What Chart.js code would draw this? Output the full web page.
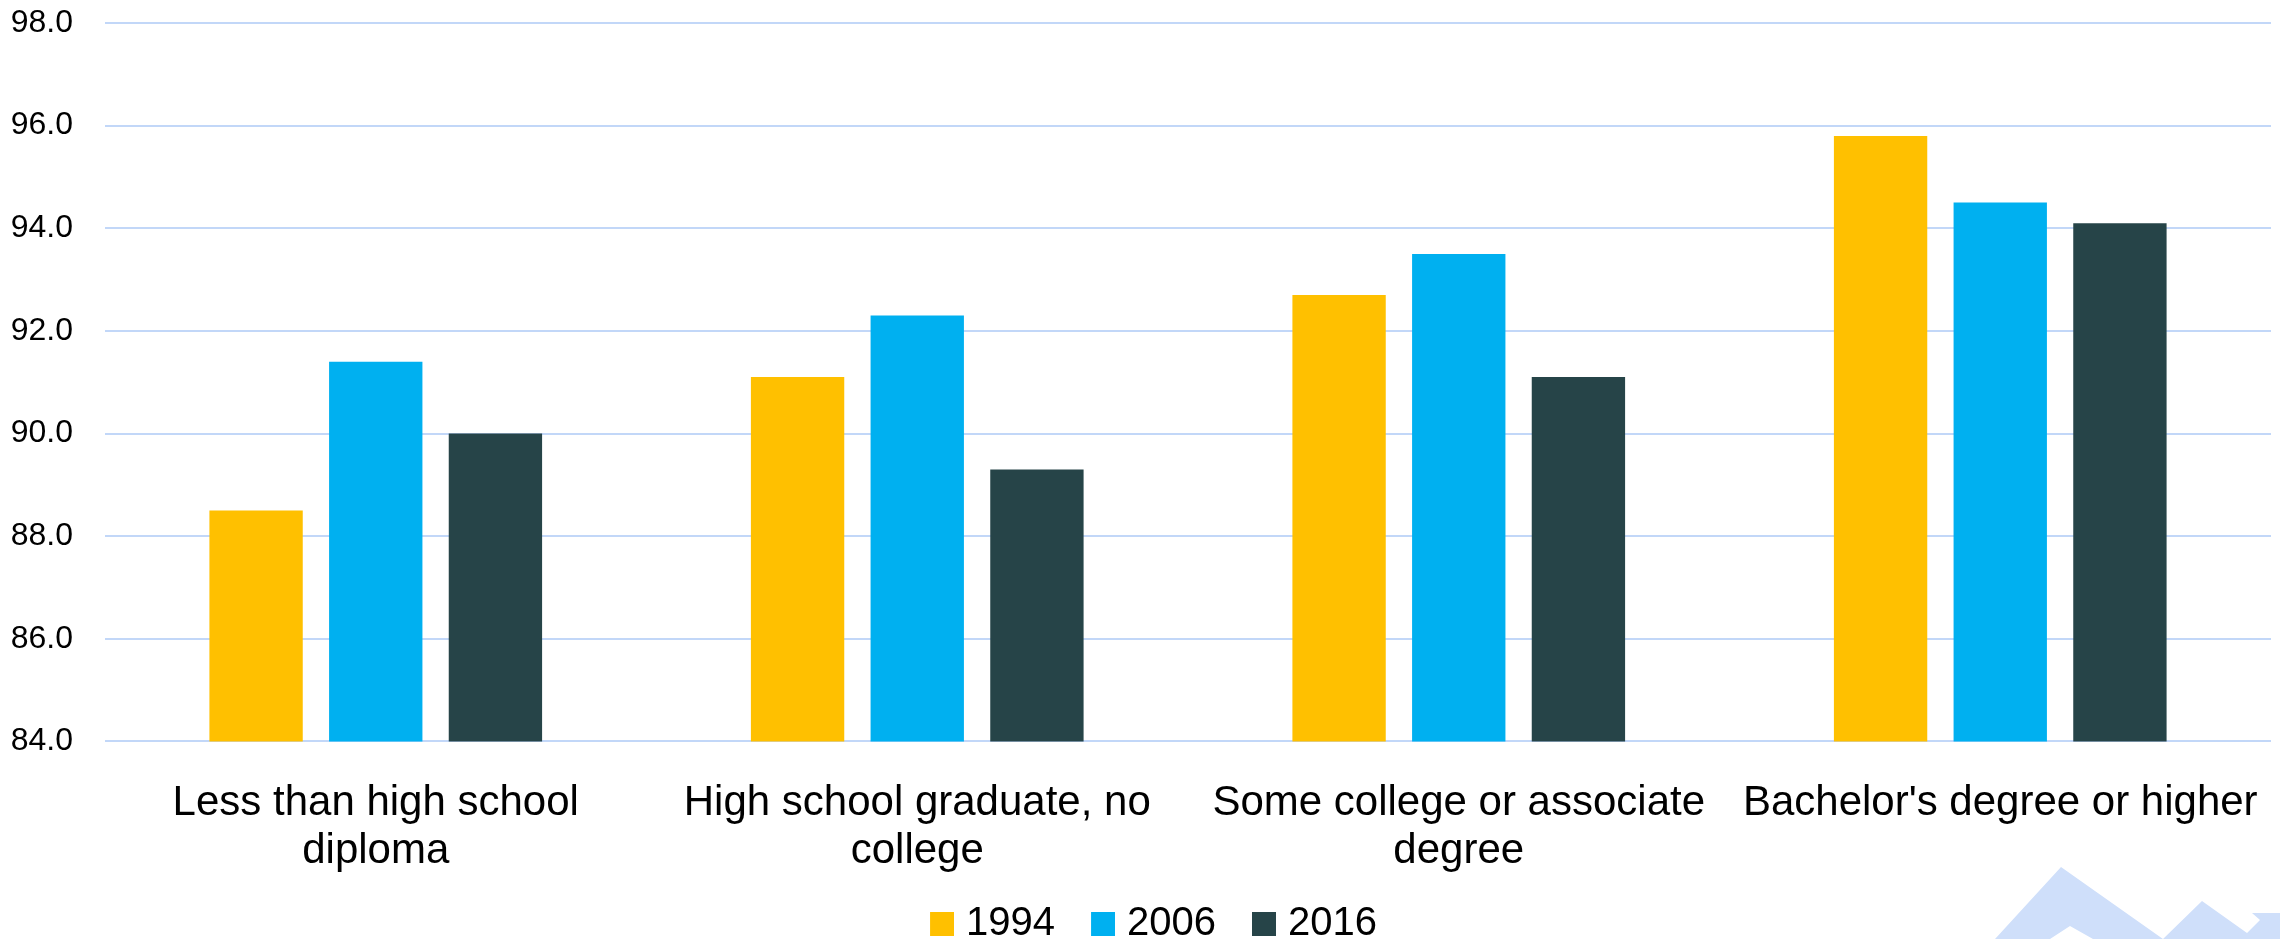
<!DOCTYPE html>
<html>
<head>
<meta charset="utf-8">
<script src="https://cdn.jsdelivr.net/npm/chart.js@4/dist/chart.umd.min.js"></script>
<style>
  html, body { margin: 0; padding: 0; background: #fff; }
  #wrap { width: 2280px; height: 939px; position: relative; }
</style>
</head>
<body>
<div id="wrap"><canvas id="chartEdu"></canvas></div>
<script>
var categories = [
    ["Less than high school", "diploma"],
    ["High school graduate, no", "college"],
    ["Some college or associate", "degree"],
    ["Bachelor's degree or higher"],
];
var values1994 = [88.5, 91.1, 92.7, 95.8];
var values2006 = [91.4, 92.3, 93.5, 94.5];
var values2016 = [90.0, 89.3, 91.1, 94.1];
var yTicks = [84, 86, 88, 90, 92, 94, 96, 98];

var fontFamily = "'Liberation Sans', Arial, sans-serif";

// square legend swatch, drawn as a point style so the text can sit closer
function swatch(color) {
    var cv = document.createElement("canvas");
    cv.width = 32;
    cv.height = 24;
    var c = cv.getContext("2d");
    c.fillStyle = color;
    c.fillRect(8, 0, 24, 24);
    return cv;
}

// faint mountain watermark in the bottom right corner
var watermark = {
    id: "watermark",
    beforeDraw: function (chart) {
        var c = chart.ctx;
        var w = chart.width, h = chart.height;
        c.save();
        c.fillStyle = "#cfdffa";
        c.beginPath();
        c.moveTo(w - 285, h);
        c.lineTo(w - 219, h - 72);
        c.lineTo(w - 117, h);
        c.lineTo(w - 78, h - 38);
        c.lineTo(w - 33, h - 6);
        c.lineTo(w - 20, h - 19);
        c.lineTo(w - 28, h - 26);
        c.lineTo(w, h - 26);
        c.lineTo(w, h);
        c.lineTo(w - 187, h);
        c.lineTo(w - 210, h - 13);
        c.lineTo(w - 230, h);
        c.closePath();
        c.fill();
        c.restore();
    },
};

// keep the legend's item spacing but drop part of its padding,
// and let the x labels draw past their (shrunk) box
var tightLayout = {
    id: "tightLayout",
    beforeInit: function (chart) {
        var fit = chart.legend.fit;
        chart.legend.fit = function () {
            fit.call(this);
            this.height -= 15;
        };
    },
    afterLayout: function (chart) {
        chart.scales.x.bottom = chart.height;
        chart.legend.left += 24;
    },
};

var ctxEdu = document.getElementById("chartEdu").getContext("2d");
var chartEdu = new Chart(ctxEdu, {
    type: "bar",
    data: {
        labels: categories,
        datasets: [{
            label: "1994",
            backgroundColor: "#ffc000",
            data: values1994,
        }, {
            label: "2006",
            backgroundColor: "#00b0f0",
            data: values2006,
        }, {
            label: "2016",
            backgroundColor: "#264448",
            data: values2016,
        }],
    },
    options: {
        responsive: true,
        maintainAspectRatio: false,
        devicePixelRatio: 1,
        animation: false,
        layout: {
            padding: { left: 12, right: 9, top: 0, bottom: 0 },
        },
        datasets: {
            bar: { categoryPercentage: 0.663, barPercentage: 0.78 },
        },
        plugins: {
            tooltip: { enabled: false },
            legend: {
                position: "bottom",
                labels: {
                    color: "#000",
                    usePointStyle: true,
                    boxWidth: 16,
                    boxHeight: 24,
                    padding: 36,
                    font: { family: fontFamily, size: 40 },
                    generateLabels: function (chart) {
                        var items = Chart.defaults.plugins.legend.labels.generateLabels(chart);
                        items.forEach(function (it) {
                            it.pointStyle = swatch(it.fillStyle);
                        });
                        return items;
                    },
                },
            },
        },
        scales: {
            x: {
                grid: { display: false },
                border: { display: false },
                afterFit: function (axis) {
                    axis.height -= 38;
                    axis.paddingLeft = 0;
                    axis.paddingRight = 0;
                },
                ticks: {
                    color: "#000",
                    padding: 30,
                    maxRotation: 0,
                    autoSkip: false,
                    font: { family: fontFamily, size: 42, lineHeight: 1.15 },
                },
            },
            y: {
                min: 84,
                max: 98,
                afterBuildTicks: function (axis) {
                    axis.ticks = yTicks.map(function (v) { return { value: v }; });
                },
                afterFit: function (axis) {
                    axis.width = 93;
                    axis.paddingTop = 23;
                    axis.paddingBottom = 20;
                },
                grid: { color: "#c2d7f8", lineWidth: 2, drawTicks: false },
                border: { display: false },
                ticks: {
                    color: "#000",
                    padding: 32,
                    font: { family: fontFamily, size: 32 },
                    callback: function (v) { return Number(v).toFixed(1); },
                },
            },
        },
    },
    plugins: [watermark, tightLayout],
});
</script>
</body>
</html>
